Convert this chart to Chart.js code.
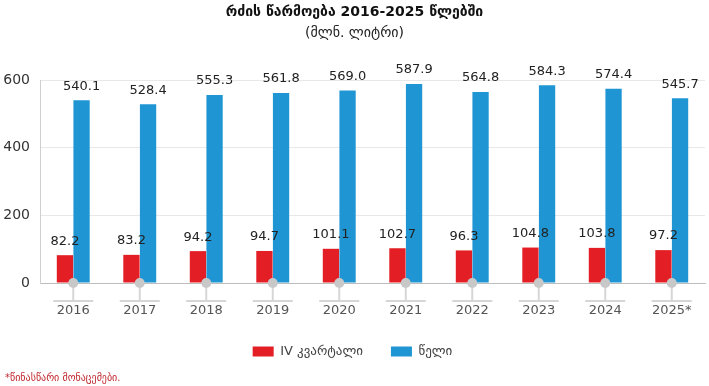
<!DOCTYPE html>
<html>
<head>
<meta charset="utf-8">
<script src="https://cdn.jsdelivr.net/npm/chart.js@4.4.0/dist/chart.umd.min.js"></script>
<style>
  body { margin: 0; background: #fff; font-family: "DejaVu Sans", sans-serif; }
  #wrap { position: relative; width: 709px; height: 386px; }
  #title { position: absolute; top: 3px; left: 0; width: 709px; text-align: center; font-weight: bold; font-size: 14px; color: #111; }
  #subtitle { position: absolute; top: 24px; left: 0; width: 709px; text-align: center; font-size: 14px; color: #222; }
  #note { position: absolute; top: 372px; left: 5px; font-size: 10px; color: #c0272d; }
</style>
</head>
<body>
<div id="wrap">
  <canvas id="chart" width="709" height="386"></canvas>
  <div id="title">რძის წარმოება 2016-2025 წლებში</div>
  <div id="subtitle">(მლნ. ლიტრი)</div>
  <div id="note">*წინასწარი მონაცემები.</div>
</div>
<script>
// წლები
const years = ["2016", "2017", "2018", "2019", "2020", "2021", "2022", "2023", "2024", "2025*"];
// IV კვარტალი
const q4 = [82.2, 83.2, 94.2, 94.7, 101.1, 102.7, 96.3, 104.8, 103.8, 97.2];
// წელი
const annual = [540.1, 528.4, 555.3, 561.8, 569.0, 587.9, 564.8, 584.3, 574.4, 545.7];
const yTicks = [0, 200, 400, 600];

// value labels above bars
const barLabels = {
  id: "barLabels",
  afterDatasetsDraw(c) {
    const ctx = c.ctx;
    ctx.save();
    ctx.font = "13px 'DejaVu Sans'";
    ctx.fillStyle = "#222";
    ctx.textAlign = "center";
    ctx.textBaseline = "middle";
    c.data.datasets.forEach((ds, i) => {
      c.getDatasetMeta(i).data.forEach((bar, j) => {
        ctx.fillText(ds.data[j].toFixed(1), bar.x, bar.y - 14);
      });
    });
    ctx.restore();
  }
};

// gray dot + small stem under each category
const catMarks = {
  id: "catMarks",
  afterDraw(c) {
    const ctx = c.ctx, x = c.scales.x, y0 = c.scales.y.getPixelForValue(0);
    ctx.save();
    ctx.strokeStyle = "#d6d6d6";
    ctx.fillStyle = "#c8c8c8";
    ctx.lineWidth = 2;
    years.forEach((_, i) => {
      const cx = x.getPixelForValue(i);
      ctx.beginPath();
      ctx.moveTo(cx, y0);
      ctx.lineTo(cx, y0 + 18);
      ctx.moveTo(cx - 20, y0 + 18);
      ctx.lineTo(cx + 20, y0 + 18);
      ctx.stroke();
      ctx.beginPath();
      ctx.arc(cx, y0, 5, 0, Math.PI * 2);
      ctx.fill();
    });
    ctx.restore();
  }
};

new Chart(document.getElementById("chart"), {
  type: "bar",
  data: {
    labels: years,
    datasets: [
      { label: "IV კვარტალი", data: q4, backgroundColor: "#e31e24" },
      { label: "წელი", data: annual, backgroundColor: "#1f96d3" }
    ]
  },
  options: {
    responsive: false,
    animation: false,
    layout: { padding: { top: 80, right: 4, bottom: 18, left: 0 } },
    datasets: { bar: { categoryPercentage: 0.5, barPercentage: 0.98 } },
    plugins: {
      tooltip: { enabled: false },
      legend: {
        position: "bottom",
        labels: {
          boxWidth: 21, boxHeight: 10, padding: 28,
          color: "#444", font: { family: "DejaVu Sans", size: 13 }
        }
      }
    },
    scales: {
      x: {
        grid: { display: false },
        border: { color: "#bdbdbd" },
        ticks: { padding: 12, color: "#555", font: { family: "DejaVu Sans", size: 13 } },
        afterFit: s => { s.height = 34; }
      },
      y: {
        min: 0, max: 600,
        afterBuildTicks: s => { s.ticks = yTicks.map(v => ({ value: v })); },
        grid: { color: "#e8e8e8", drawTicks: false },
        border: { color: "#cfcfcf" },
        ticks: { padding: 10, color: "#333", font: { family: "DejaVu Sans", size: 14 } },
        afterFit: s => { s.width = 40; }
      }
    }
  },
  plugins: [barLabels, catMarks]
});
</script>
</body>
</html>
